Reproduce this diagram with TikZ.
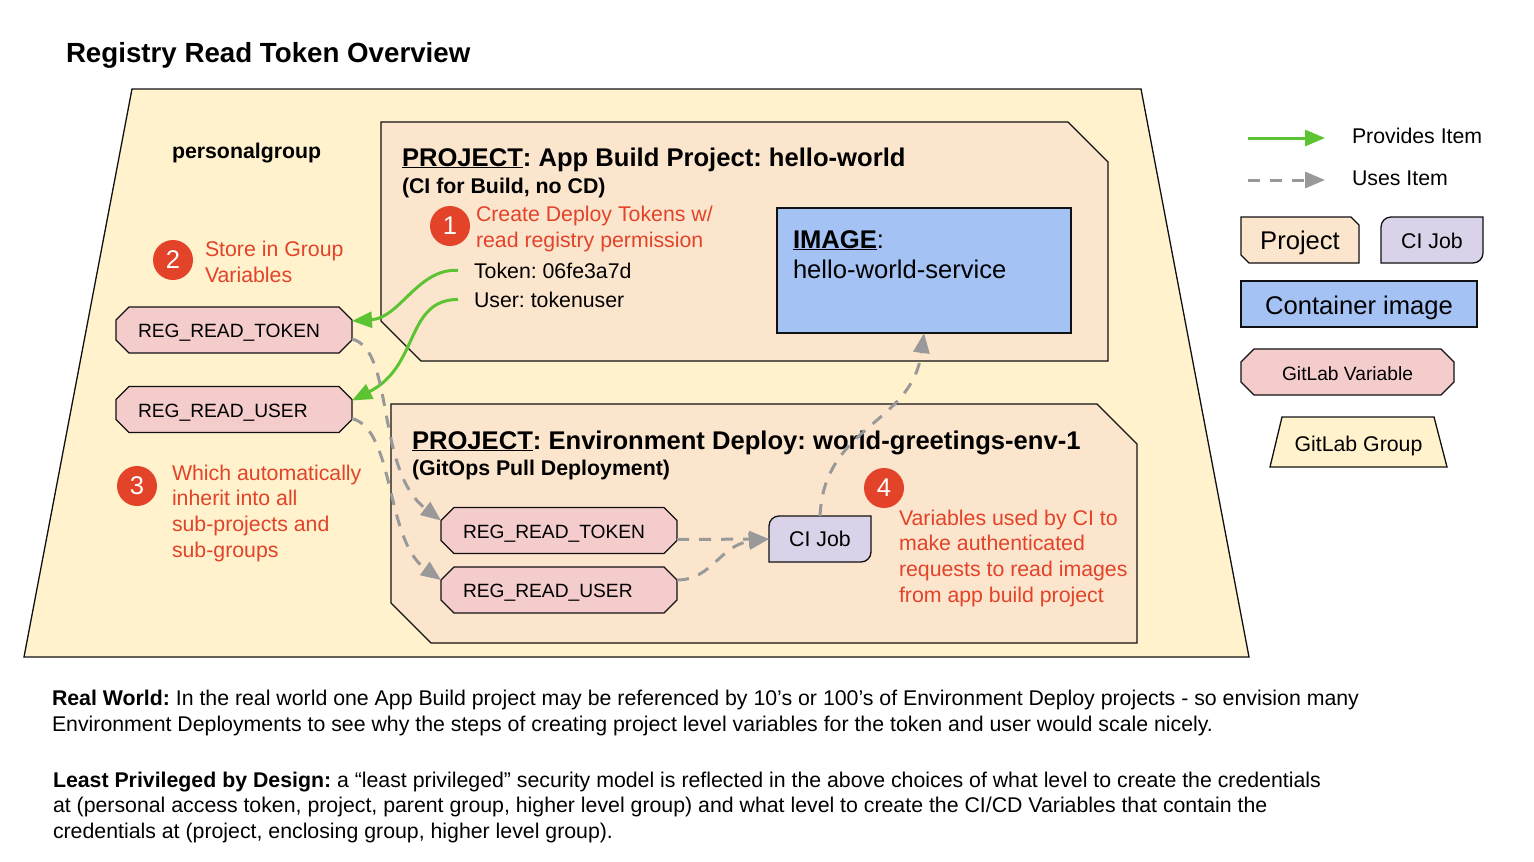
\documentclass[tikz,border=0pt]{standalone}
\usepackage{fontspec}
\setmainfont{Liberation Sans}
\usetikzlibrary{arrows.meta,calc}
\frenchspacing
\newcommand{\fsz}[2]{\fontsize{#1pt}{#2pt}\selectfont}
\definecolor{groupc}{HTML}{FFF2CC}
\definecolor{projc}{HTML}{FCE5CD}
\definecolor{imgc}{HTML}{A4C2F4}
\definecolor{varc}{HTML}{F4CCCC}
\definecolor{cic}{HTML}{D9D2E9}
\definecolor{provc}{HTML}{5CC433}
\definecolor{usec}{HTML}{999999}
\definecolor{redc}{HTML}{E24329}
\definecolor{edge}{HTML}{111111}
\tikzset{
  x=1pt,y=-1pt,
  outl/.style={draw=edge,line width=1.3pt},
  frame/.style={inner sep=0pt,outer sep=0pt},
  txt/.style={anchor=base west,inner sep=0pt,outer sep=0pt,text=black,font=\fsz{21.3}{25.6}},
  txtc/.style={anchor=base,inner sep=0pt,outer sep=0pt,text=black,font=\fsz{21.3}{25.6}},
  vartxt/.style={txt,font=\fsz{19.2}{24}},
  headt/.style={txt,font=\bfseries\fsz{25.6}{30}},
  subt/.style={txt,font=\bfseries\fsz{21.3}{25.6}},
  bigt/.style={txt,font=\fsz{25.6}{30}},
  redt/.style={txt,text=redc,align=left},
  para/.style={txt,align=left},
  projfill/.style={outl,fill=projc},
  varfill/.style={outl,fill=varc},
  varbox/.style={frame,minimum width=236pt,minimum height=46pt},
  imgbox/.style={frame,outl,fill=imgc},
  ciline/.style={outl,fill=cic},
  badge/.style={circle,fill=redc,minimum size=40pt,inner sep=0pt,text=white,font=\fsz{25.6}{30}},
  provides/.style={draw=provc,line width=3pt,-{Triangle[length=20pt,width=16pt,fill=provc]}},
  uses/.style={draw=usec,line width=3pt,dash pattern=on 12pt off 10pt,-{Triangle[length=20pt,width=16pt,fill=usec,sep=0pt]}},
}
\newcommand{\cipath}[1]{%
  \draw[ciline] ([yshift=-10pt]#1.north west) arc[start angle=180,end angle=90,radius=10pt]
    -- (#1.north east) -- ([yshift=10pt]#1.south east) arc[start angle=0,end angle=-90,radius=10pt]
    -- (#1.south west) -- cycle;}
\newcommand{\octo}[2]{%
  \draw[varfill] ([xshift=#2]#1.north west) -- ([xshift=-#2]#1.north east) -- ([yshift=-#2]#1.north east)
    -- ([yshift=#2]#1.south east) -- ([xshift=-#2]#1.south east) -- ([xshift=#2]#1.south west)
    -- ([yshift=#2]#1.south west) -- ([yshift=-#2]#1.north west) -- cycle;}
\newcommand{\projpath}[2]{%
  \draw[projfill] (#1.north west) -- ([xshift=-#2]#1.north east) -- ([yshift=-#2]#1.north east)
    -- (#1.south east) -- ([xshift=#2]#1.south west) -- ([yshift=#2]#1.south west) -- cycle;}
\begin{document}
\begin{tikzpicture}
\useasboundingbox (0,0) rectangle (1534,862);
\fill[white] (0,0) rectangle (1534,862);

\node[txt,font=\bfseries\fsz{27.7}{30}] (title) at (66,62) {Registry Read Token Overview};

% group
\draw[outl,fill=groupc] (132,89) -- (1141,89) -- (1249,657) -- (24,657) -- cycle;
\node[subt] (groupname) at (172,158.5) {personalgroup};

% project 1
\node[frame,minimum width=727pt,minimum height=239pt] (proj1) at (744.5,241.5) {};
\projpath{proj1}{40pt}
\node[headt] (proj1title) at (402,166) {\underline{PROJECT}: App Build Project: hello-world};
\node[subt] (proj1sub) at (402,193) {(CI for Build, no CD)};
\node[badge] (b1) at (450,226) {1};
\node[redt] (red1) at (476,247) {Create Deploy Tokens w/\\read registry permission};
\node[txt] (tok) at (474,278) {Token: 06fe3a7d};
\node[txt] (usr) at (474,307) {User: tokenuser};
\node[imgbox,minimum width=294pt,minimum height=125pt] (image) at (924,270.5) {};
\node[bigt] (imgl1) at (793,248) {\textbf{\underline{IMAGE}}:};
\node[bigt] (imgl2) at (793,278) {hello-world-service};

% project 2
\node[frame,minimum width=746pt,minimum height=239pt] (proj2) at (764,523.5) {};
\projpath{proj2}{40pt}
\node[headt] (proj2title) at (412,449) {\underline{PROJECT}: Environment Deploy: world-greetings-env-1};
\node[subt] (proj2sub) at (412,475) {(GitOps Pull Deployment)};

% group variables
\node[badge] (b2) at (173,260) {2};
\node[redt] (red2) at (205,282) {Store in Group\\Variables};
\node[varbox] (gtok) at (234,330) {};
\octo{gtok}{13pt}
\node[vartxt] (gtokt) at (138,337) {REG\_READ\_TOKEN};
\node[varbox] (gusr) at (234,409.5) {};
\octo{gusr}{13pt}
\node[vartxt] (gusrt) at (138,417) {REG\_READ\_USER};
\node[badge] (b3) at (137,486) {3};
\node[redt] (red3) at (172,557) {Which automatically\\inherit into all\\sub-projects and\\sub-groups};

% project variables
\node[varbox] (ptok) at (559,530.5) {};
\octo{ptok}{13pt}
\node[vartxt] (ptokt) at (463,538) {REG\_READ\_TOKEN};
\node[varbox] (pusr) at (559,590) {};
\octo{pusr}{13pt}
\node[vartxt] (pusrt) at (463,597) {REG\_READ\_USER};
\node[frame,minimum width=102pt,minimum height=46pt] (ci) at (820,539) {};
\cipath{ci}
\node[txtc] (cit) at (820,546) {CI Job};
\node[badge] (b4) at (884,488) {4};
\node[redt] (red4) at (899,602) {Variables used by CI to\\make authenticated\\requests to read images\\from app build project};

% connectors
\draw[provides] ([xshift=-16pt]tok.west) .. controls (418,268) and (400,318) .. ([yshift=9pt]gtok.east);
\draw[provides] ([xshift=-16pt]usr.west) .. controls (405,300) and (420,366) .. ([yshift=9pt]gusr.east);
\draw[uses] ([yshift=-9pt]gtok.east) .. controls (395,350) and (375,470) .. ([yshift=10pt]ptok.west);
\draw[uses] ([yshift=-9pt]gusr.east) .. controls (395,430) and (385,540) .. ([yshift=10pt]pusr.west);
\draw[uses] ([yshift=-9pt]ptok.east) -- (ci.west);
\draw[uses] ([yshift=10pt]pusr.east) .. controls (712,580) and (720,545) .. (ci.west);
\draw[uses] (ci.north) .. controls (824,425) and (912,425) .. (image.south);

% legend
\coordinate (lg1a) at (1248,138);
\coordinate (lg1b) at (1325,138);
\coordinate (lg2a) at (1248,180);
\coordinate (lg2b) at (1325,180);
\draw[provides] (lg1a) -- (lg1b);
\draw[uses] (lg2a) -- (lg2b);
\node[txt] (lgp) at (1352,143) {Provides Item};
\node[txt] (lgu) at (1352,185) {Uses Item};
\node[frame,minimum width=118pt,minimum height=46pt] (lproj) at (1300,240) {};
\projpath{lproj}{8pt}
\node[txtc,font=\fsz{25.6}{30}] (lprojt) at (1300,249) {Project};
\node[frame,minimum width=102pt,minimum height=46pt] (lci) at (1432,240) {};
\cipath{lci}
\node[txtc] (lcit) at (1432,248) {CI Job};
\node[imgbox,minimum width=236pt,minimum height=46pt] (limg) at (1359,304) {};
\node[txtc,font=\fsz{25.6}{30}] (limgt) at (1359,314) {Container image};
\node[frame,minimum width=213pt,minimum height=46pt] (lvar) at (1347.5,372) {};
\octo{lvar}{13pt}
\node[txtc,font=\fsz{19.2}{24}] (lvart) at (1347.5,380) {GitLab Variable};
\draw[outl,fill=groupc] (1282,417) -- (1434,417) -- (1447,467) -- (1270,467) -- cycle;
\node[txtc] (lgrp) at (1358.5,451) {GitLab Group};

% paragraphs
\node[para] (p1) at (52,731) {\textbf{Real World:} In the real world one App Build project may be referenced by 10’s or 100’s of Environment Deploy projects - so envision many\\Environment Deployments to see why the steps of creating project level variables for the token and user would scale nicely.};
\node[para] (p2) at (53,838.5) {\textbf{Least Privileged by Design:} a “least privileged” security model is reflected in the above choices of what level to create the credentials\\at (personal access token, project, parent group, higher level group) and what level to create the CI/CD Variables that contain the\\credentials at (project, enclosing group, higher level group).};
\end{tikzpicture}
\end{document}
